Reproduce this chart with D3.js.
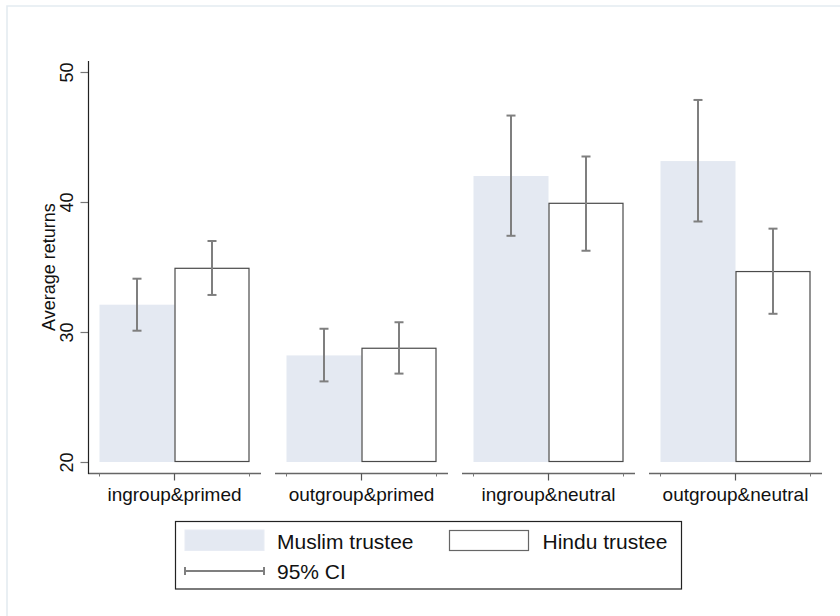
<!DOCTYPE html>
<html>
<head>
<meta charset="utf-8">
<script src="https://cdn.jsdelivr.net/npm/d3@7"></script>
<style>
  html, body { margin: 0; padding: 0; background: #fff; }
  svg { display: block; font-family: "Liberation Sans", Arial, sans-serif; }
</style>
</head>
<body>
<svg id="chart" width="840" height="616"></svg>
<script>
// ---- data ----
const categories = ["ingroup&primed", "outgroup&primed", "ingroup&neutral", "outgroup&neutral"];
const series = ["Muslim trustee", "Hindu trustee"];
const muslimMean = [32.1, 28.2, 42.0, 43.15];
const muslimLo   = [30.1, 26.2, 37.4, 38.5];
const muslimHi   = [34.1, 30.25, 46.65, 47.85];
const hinduMean  = [34.9, 28.75, 39.9, 34.65];
const hinduLo    = [32.85, 26.8, 36.25, 31.4];
const hinduHi    = [37.0, 30.75, 43.5, 37.95];
const yTicks = [20, 30, 40, 50];
const ciLabel = "95% CI";
const yTitle = "Average returns";

const means = [muslimMean, hinduMean];
const los = [muslimLo, hinduLo];
const his = [muslimHi, hinduHi];

const svg = d3.select("#chart");

// faint outer frame (top & left)
svg.append("path")
  .attr("d", "M7,616 V6 H840")
  .attr("fill", "none").attr("stroke", "#e4ebf1").attr("stroke-width", 1.6);

const y = d3.scaleLinear().domain([20, 50]).range([462, 72]);
const x = d3.scaleBand().domain(categories).range([81, 829]).paddingInner(0).paddingOuter(0);
const xs = d3.scaleBand().domain(series).range([-75, 75]);

const fills = ["#e4e9f2", "#ffffff"];
const strokes = ["none", "#4a4a4a"];

// bars
categories.forEach((c, i) => {
  const cx = x(c) + x.bandwidth() / 2;
  const g = svg.append("g").attr("transform", `translate(${cx},0)`);
  series.forEach((s, j) => {
    g.append("rect")
      .attr("x", xs(s) + (j === 1 ? 0.5 : 0))
      .attr("width", xs.bandwidth() - (j === 1 ? 1 : 0))
      .attr("y", y(means[j][i]))
      .attr("height", y(20) - y(means[j][i]) - (j === 1 ? 0.5 : 0))
      .attr("fill", fills[j])
      .attr("stroke", strokes[j])
      .attr("stroke-width", 1.2);
  });
  // error bars
  series.forEach((s, j) => {
    const ex = xs(s) + xs.bandwidth() / 2;
    const eg = g.append("g").attr("stroke", "#7f7f7f").attr("stroke-width", 2).attr("fill", "none");
    eg.append("line").attr("x1", ex).attr("x2", ex).attr("y1", y(his[j][i])).attr("y2", y(los[j][i]));
    eg.append("line").attr("x1", ex - 4.5).attr("x2", ex + 4.5).attr("y1", y(his[j][i])).attr("y2", y(his[j][i]));
    eg.append("line").attr("x1", ex - 4.5).attr("x2", ex + 4.5).attr("y1", y(los[j][i])).attr("y2", y(los[j][i]));
  });
  // x axis segment
  const axY = 473.5;
  g.append("line").attr("x1", -86.5).attr("x2", 86.5).attr("y1", axY).attr("y2", axY)
    .attr("stroke", "#666").attr("stroke-width", 1.3);
  g.append("line").attr("x1", 0).attr("x2", 0).attr("y1", axY).attr("y2", axY + 7)
    .attr("stroke", "#555").attr("stroke-width", 1.2);
  [-75, 75].forEach(t => {
    g.append("line").attr("x1", t).attr("x2", t).attr("y1", axY).attr("y2", axY + 3)
      .attr("stroke", "#777").attr("stroke-width", 1);
  });
  g.append("text").attr("x", 0).attr("y", 501)
    .attr("text-anchor", "middle").attr("font-size", 19).attr("fill", "#111")
    .text(c);
});

// y axis
const yAxis = d3.axisLeft(y).tickValues(yTicks).tickSize(8).tickPadding(0).tickFormat(d3.format("d"));
const yg = svg.append("g").attr("transform", "translate(88.5,0)").call(yAxis);
yg.select(".domain").remove();
yg.selectAll(".tick line").attr("stroke", "#777").attr("stroke-width", 1.2);
yg.selectAll(".tick text")
  .attr("x", 0).attr("dy", 0)
  .attr("transform", "translate(-16,0) rotate(-90)")
  .attr("text-anchor", "middle")
  .attr("font-size", 18).attr("fill", "#111")
  .attr("font-family", "Liberation Sans, Arial, sans-serif");
svg.append("line").attr("x1", 88.5).attr("x2", 88.5).attr("y1", 61).attr("y2", 474)
  .attr("stroke", "#222").attr("stroke-width", 1.2);

svg.append("text")
  .attr("transform", `translate(55,${(y(20) + y(50)) / 2 + 0}) rotate(-90)`)
  .attr("text-anchor", "middle").attr("font-size", 18).attr("fill", "#111")
  .text(yTitle);

// legend
const lg = svg.append("g");
lg.append("rect").attr("x", 175.5).attr("y", 521.5).attr("width", 506).attr("height", 67.5)
  .attr("fill", "#fff").attr("stroke", "#222").attr("stroke-width", 1.2);
lg.append("rect").attr("x", 185).attr("y", 530).attr("width", 79).attr("height", 20.5)
  .attr("fill", fills[0]).attr("stroke", "#e8ecf4").attr("stroke-width", 1);
lg.append("text").attr("x", 277).attr("y", 549).attr("font-size", 21).attr("fill", "#111").text(series[0]);
lg.append("rect").attr("x", 449.5).attr("y", 530.5).attr("width", 79).attr("height", 20)
  .attr("fill", fills[1]).attr("stroke", "#666").attr("stroke-width", 1.2);
lg.append("text").attr("x", 542.5).attr("y", 549).attr("font-size", 21).attr("fill", "#111").text(series[1]);
const cg = lg.append("g").attr("stroke", "#7f7f7f").attr("stroke-width", 2);
cg.append("line").attr("x1", 185).attr("x2", 264).attr("y1", 571).attr("y2", 571);
cg.append("line").attr("x1", 185).attr("x2", 185).attr("y1", 567).attr("y2", 575);
cg.append("line").attr("x1", 264).attr("x2", 264).attr("y1", 567).attr("y2", 575);
lg.append("text").attr("x", 277).attr("y", 579).attr("font-size", 21).attr("fill", "#111").text(ciLabel);
</script>
</body>
</html>
